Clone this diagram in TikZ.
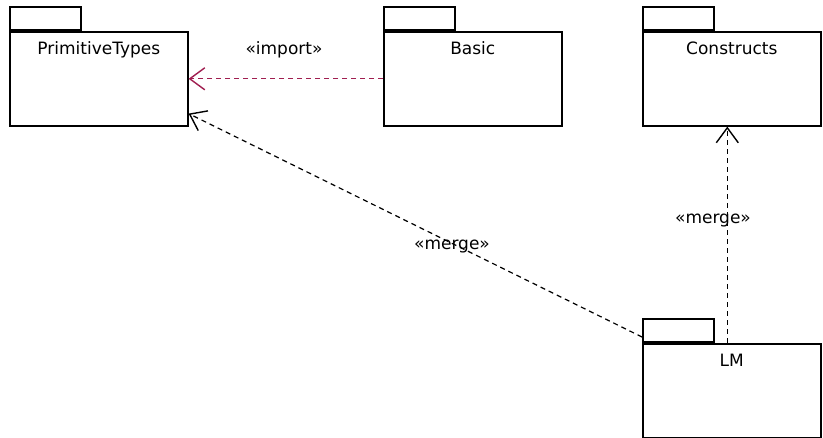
\documentclass[tikz,border=0pt]{standalone}
\usepackage{fontspec}
\setmainfont{DejaVu Sans}
\usetikzlibrary{arrows.meta}
\definecolor{imred}{RGB}{160,30,80}
\begin{document}
\begin{tikzpicture}[x=1pt,y=-1pt,
  font=\fontsize{17}{20}\selectfont,
  pkgbody/.style={draw,line width=1.6pt,minimum width=178pt,minimum height=94pt,anchor=north west,inner sep=0pt},
  pkgtab/.style={draw,line width=1.6pt,minimum width=71pt,minimum height=23pt,anchor=south west,inner sep=0pt},
  pkgname/.style={label={[anchor=base,yshift=-24pt]north:#1}},
  dep/.style={line width=1.2pt,dash pattern=on 5pt off 4pt,-{Straight Barb[length=15pt,width=22pt,line width=1.4pt]}},
  stereo/.style={anchor=base,inner sep=0pt}]
\useasboundingbox[fill=white] (0,0) rectangle (823,438);
% packages
\node[pkgtab] (primtab) at (9,31) {};
\node[pkgbody,pkgname=PrimitiveTypes] (prim) at (9,31) {};
\node[pkgtab] (basictab) at (383,31) {};
\node[pkgbody,pkgname=Basic] (basic) at (383,31) {};
\node[pkgtab] (constab) at (642,31) {};
\node[pkgbody,pkgname=Constructs] (cons) at (642,31) {};
\node[pkgtab] (lmtab) at (642,343) {};
\node[pkgbody,pkgname=LM] (lm) at (642,343) {};
\coordinate (lmstart) at (642,337);
% dependencies
\draw[dep,draw=imred] (basic.west) -- (prim.east);
\draw[dep] (lmstart) -- ([yshift=13pt]prim.south east);
\draw[dep] ([xshift=-4.5pt]lm.north) -- ([xshift=-4.5pt]cons.south);
% stereotypes
\node[stereo] (limp) at (284,55) {«import»};
\node[stereo] (lm1) at (452,250) {«merge»};
\node[stereo] (lm2) at (713,224) {«merge»};
\end{tikzpicture}
\end{document}
